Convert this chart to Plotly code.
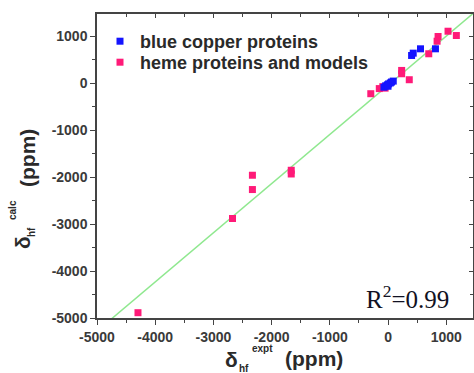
import plotly.graph_objects as go

# Data
blue_x = [-70, -40, -10, 10, 40, 60, 90, 0, 405, 433, 558, 815]
blue_y = [-80, -50, -30, -10, 10, 30, 50, -60, 596, 645, 738, 738]
pink_x = [-4296, -2672, -2330, -2330, -1663, -1663, -296, -150, -90, -50,
          234, 234, 365, 700, 843, 860, 1031, 1174]
pink_y = [-4887, -2879, -1957, -2262, -1851, -1930, -219, -110, -70, -100,
          277, 206, 79, 632, 900, 1000, 1113, 1021]
fit_x = [-4800, 1500]
fit_y = [-5070, 1532]
tick_vals = [-5000, -4000, -3000, -2000, -1000, 0, 1000]
tick_text = ["-5000", "-4000", "-3000", "-2000", "-1000", "0", "1000"]

W, H = 474, 373
L, R, T, B = 97, 1, 14, 55
PW, PH = W - L - R, H - T - B

def px(x):
    return (x - L) / PW

def py(y):
    return (H - B - y) / PH

fig = go.Figure()
fig.add_trace(go.Scatter(x=fit_x, y=fit_y, mode="lines",
                         line=dict(color="#8fe88f", width=1.5),
                         showlegend=False, hoverinfo="skip"))
fig.add_trace(go.Scatter(x=pink_x, y=pink_y, mode="markers",
                         name="heme proteins and models", legend="legend2",
                         marker=dict(symbol="square", size=7, color="#ff1a78",
                                     line=dict(width=0))))
fig.add_trace(go.Scatter(x=blue_x, y=blue_y, mode="markers",
                         name="blue copper proteins", legend="legend",
                         marker=dict(symbol="square", size=7, color="#1414ff",
                                     line=dict(width=0))))
# invisible trace for mirrored top/right axes with inward ticks
fig.add_trace(go.Scatter(x=[0], y=[0], xaxis="x2", yaxis="y2", mode="markers",
                         marker=dict(opacity=0), showlegend=False, hoverinfo="skip"))

xr = [-5000, 1460]
yr = [-5000, 1480]
tickfont = dict(family="Liberation Sans, Arial", size=14, color="#3a3a3a", weight="bold")
common = dict(showgrid=False, zeroline=False, showline=True, linecolor="#444",
              linewidth=1.5, ticks="outside", ticklen=5, tickwidth=1.2,
              tickcolor="#444", tickvals=tick_vals, ticktext=tick_text,
              tickfont=tickfont,
              minor=dict(ticks="outside", ticklen=3, dtick=500, tickcolor="#444"))
legfont = dict(family="Liberation Sans, Arial", size=18, color="#2a2a2a", weight="bold")
fig.update_layout(
    width=W, height=H,
    margin=dict(l=L, r=R, t=T, b=B),
    paper_bgcolor="white", plot_bgcolor="white",
    xaxis=dict(range=xr, **common),
    yaxis=dict(range=yr, **common),
    xaxis2=dict(range=xr, overlaying="x", side="top", showgrid=False,
                zeroline=False, showline=True, linecolor="#444", linewidth=1.5,
                ticks="inside", ticklen=4, tickcolor="#444", tickvals=tick_vals,
                showticklabels=False,
                minor=dict(ticks="inside", ticklen=3, dtick=500, tickcolor="#444")),
    yaxis2=dict(range=yr, overlaying="y", side="right", showgrid=False,
                zeroline=False, showline=True, linecolor="#444", linewidth=1.5,
                ticks="inside", ticklen=4, tickcolor="#444", tickvals=tick_vals,
                showticklabels=False,
                minor=dict(ticks="inside", ticklen=3, dtick=500, tickcolor="#444")),
    legend=dict(x=px(100), y=py(23), xanchor="left", yanchor="top",
                bgcolor="rgba(0,0,0,0)", font=legfont, itemwidth=30),
    legend2=dict(x=px(100), y=py(44), xanchor="left", yanchor="top",
                 bgcolor="rgba(0,0,0,0)", font=legfont, itemwidth=30),
    showlegend=True,
)

title_font = dict(family="Liberation Sans, Arial", size=21, color="#2a2a2a", weight="bold")
small_font = dict(family="Liberation Sans, Arial", size=10, color="#2a2a2a", weight="bold")
ann = []
# x-axis title pieces
ann.append(dict(text="δ", x=px(231), y=py(359), font=title_font))
ann.append(dict(text="hf", x=px(244), y=py(368), font=small_font))
ann.append(dict(text="expt", x=px(262), y=py(348), font=small_font))
ann.append(dict(text="(ppm)", x=px(314), y=py(358), font=title_font))
# y-axis title pieces
ann.append(dict(text="δ", x=px(22), y=py(243), font=title_font, textangle=-90))
ann.append(dict(text="hf", x=px(31), y=py(232), font=small_font, textangle=-90))
ann.append(dict(text="calc", x=px(12), y=py(210), font=small_font, textangle=-90))
ann.append(dict(text="(ppm)", x=px(27), y=py(158), font=title_font, textangle=-90))
# R^2
ann.append(dict(text="R<sup>2</sup>=0.99", x=px(451), y=py(297), xanchor="right",
                font=dict(family="Liberation Serif, Times New Roman", size=25,
                          color="#111122")))
for a in ann:
    a.setdefault("xanchor", "center")
    a.update(xref="paper", yref="paper", yanchor="middle", showarrow=False)
fig.update_layout(annotations=ann)

fig.write_html("out.html")
